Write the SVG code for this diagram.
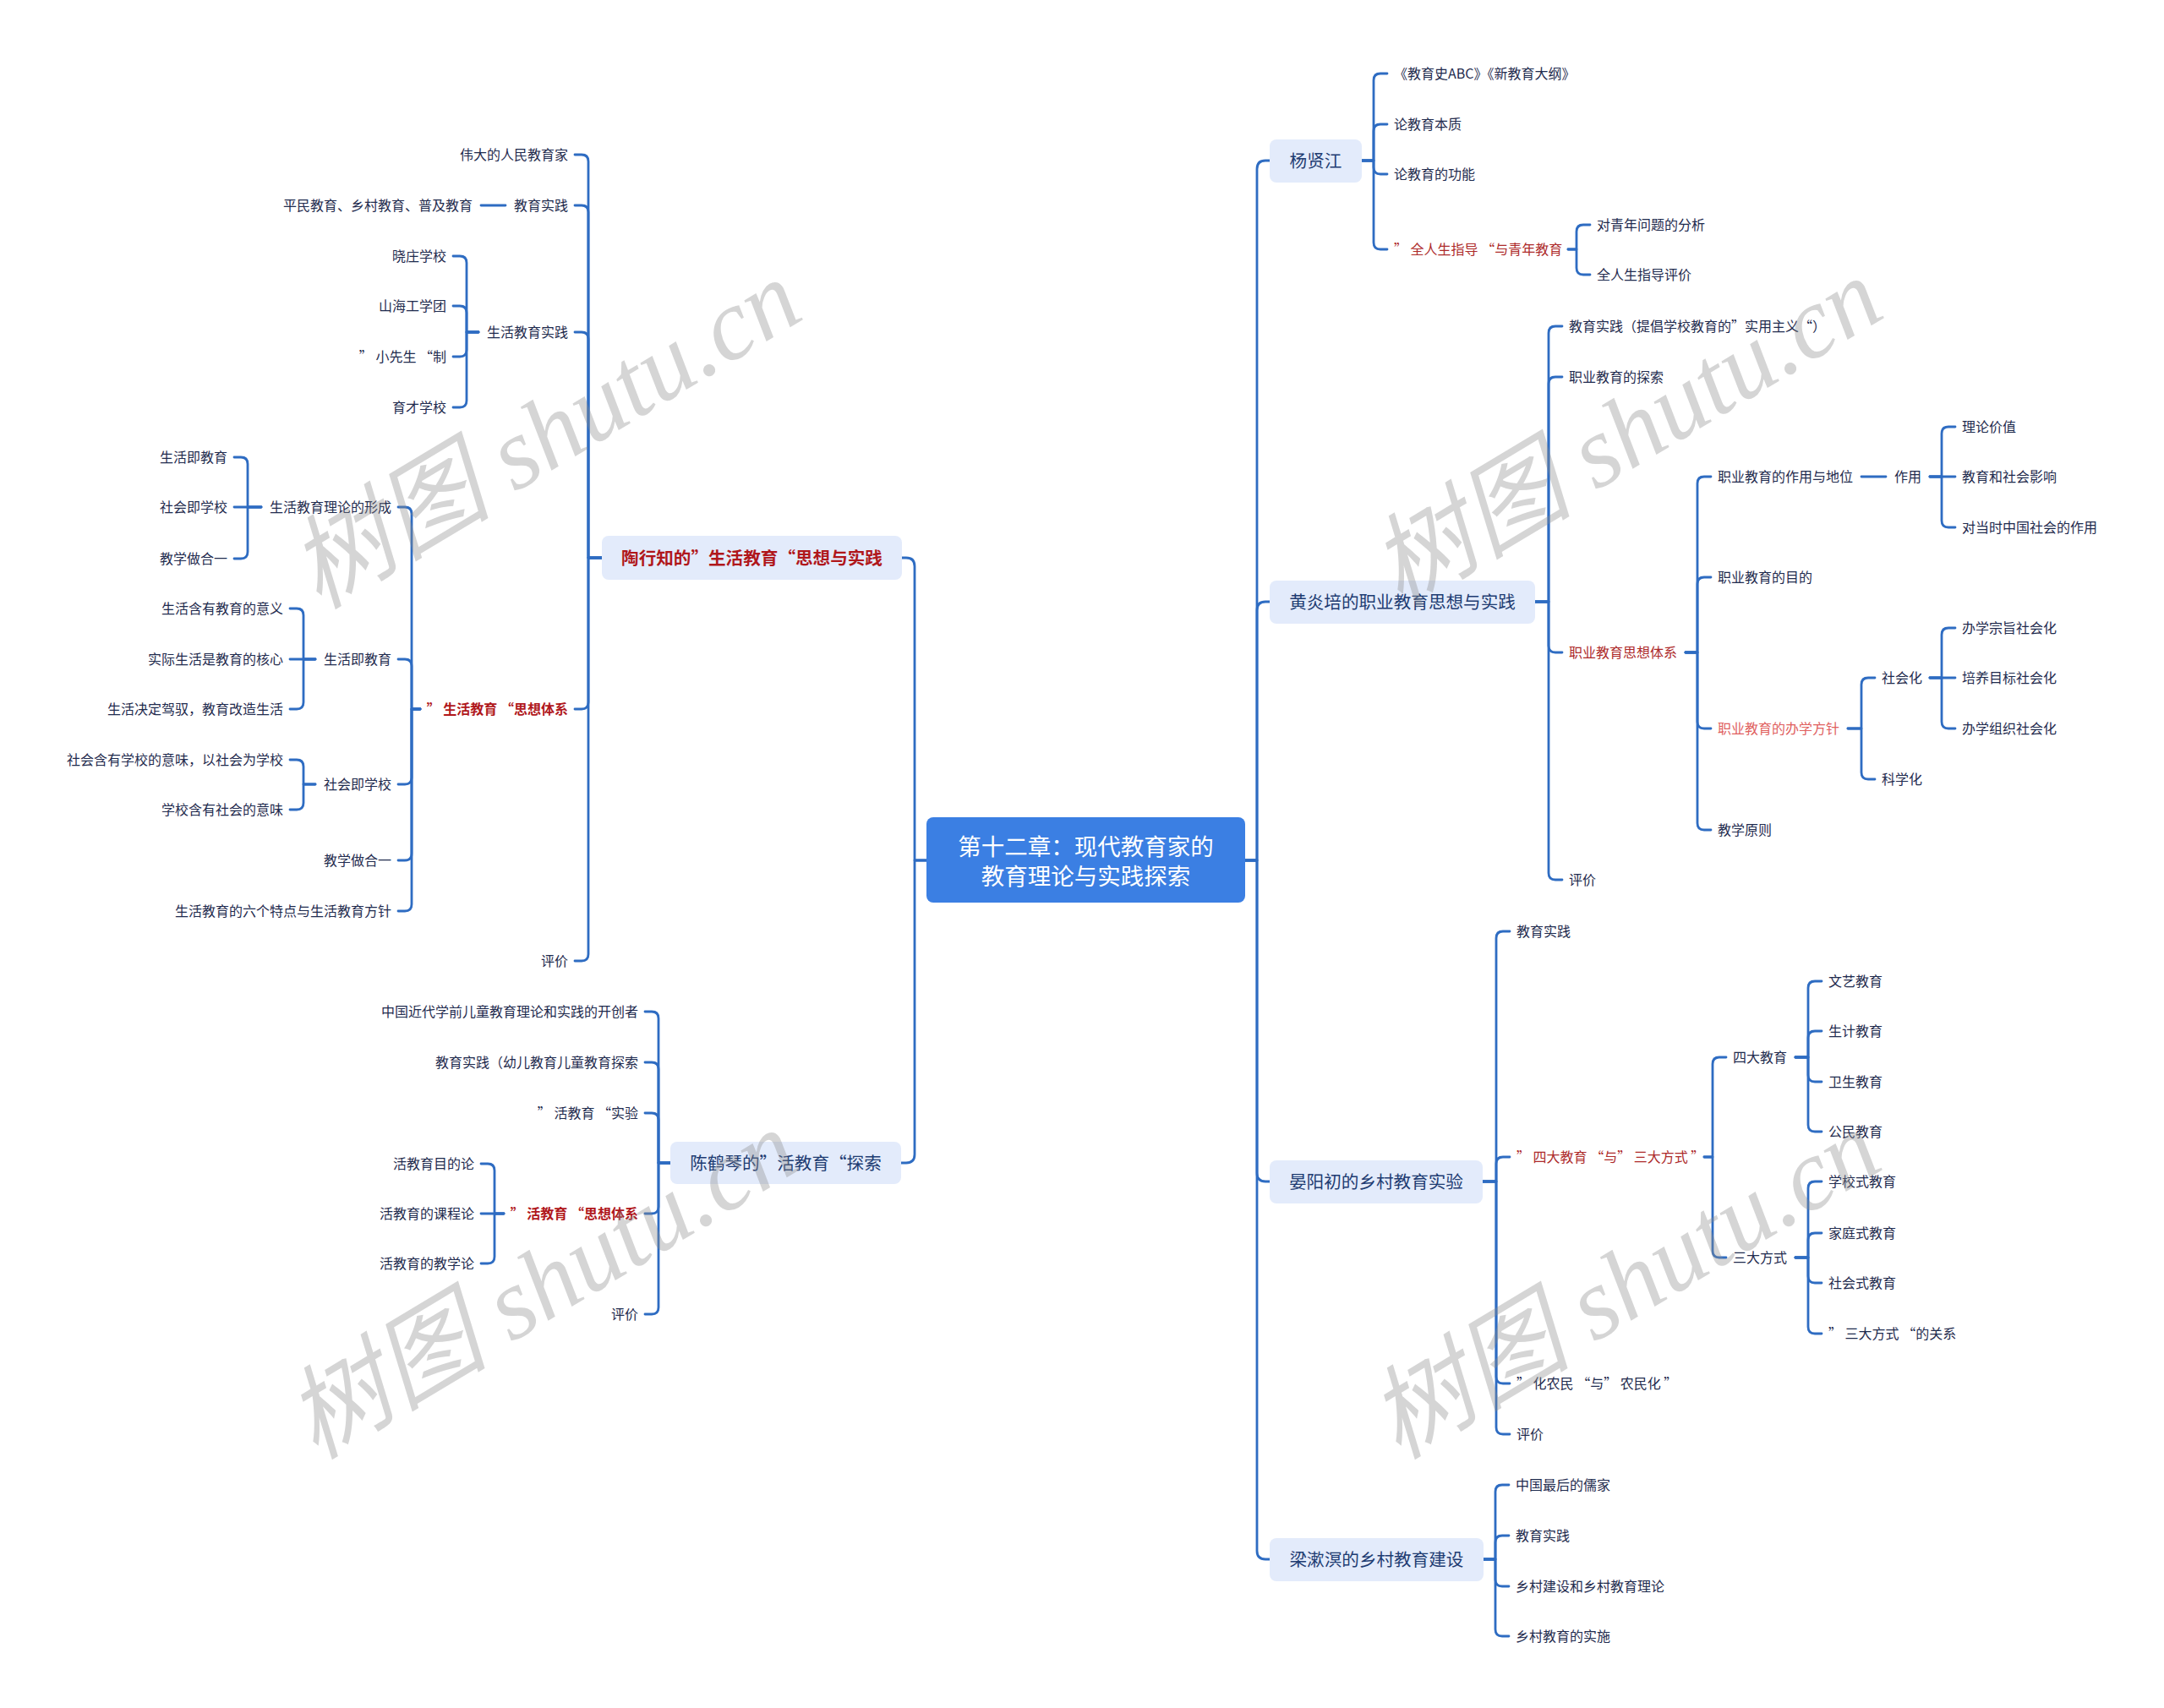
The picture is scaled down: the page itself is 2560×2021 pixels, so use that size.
<svg xmlns="http://www.w3.org/2000/svg" width="2560" height="2021" viewBox="0 0 2560 2021">
<style>
.t{font-family:"Noto Sans CJK SC","Noto Sans",sans-serif;font-size:16px;fill:#1f2b4e;dominant-baseline:central;transform:translateY(-1.5px)}
.e{text-anchor:end}
.r{fill:#ad2a2a}
.rb{fill:#b0171b;font-weight:bold}
.pk{fill:#e0605e}
.l1{font-size:20.6px;fill:#1e3c72;text-anchor:middle}
.rt{font-size:27.5px;fill:#ffffff;text-anchor:middle}
.box{fill:#e3ebfb}
#connectors path{fill:none;stroke:#2e6cc2;stroke-width:2.8;stroke-linecap:round;stroke-linejoin:round}
.wm{font-family:"Liberation Serif","Noto Sans CJK SC",serif;font-style:italic;font-size:120px;fill:#8a8a8a;fill-opacity:0.36;text-anchor:middle;dominant-baseline:central}
</style>
<rect width="2560" height="2021" fill="#ffffff"/>
<g id="connectors">
<path d="M1473,1018 H1487 V200 Q1487,190 1497,190 H1502"/>
<path d="M1473,1018 H1487 V722 Q1487,712 1497,712 H1502"/>
<path d="M1473,1018 H1487 V1388 Q1487,1398 1497,1398 H1502"/>
<path d="M1473,1018 H1487 V1835 Q1487,1845 1497,1845 H1502"/>
<path d="M1096,1018 H1082 V670 Q1082,660 1072,660 H1067"/>
<path d="M1096,1018 H1082 V1366 Q1082,1376 1072,1376 H1066"/>
<path d="M1611,190 H1625 V95 Q1625,87 1633,87 H1641"/>
<path d="M1611,190 H1625 V155 Q1625,147 1633,147 H1641"/>
<path d="M1611,190 H1625 V198 Q1625,206 1633,206 H1641"/>
<path d="M1611,190 H1625 V287 Q1625,295 1633,295 H1641"/>
<path d="M1855,295 H1865 V274 Q1865,266 1873,266 H1881"/>
<path d="M1855,295 H1865 V317 Q1865,325 1873,325 H1881"/>
<path d="M1816,712 H1832 V394 Q1832,386 1840,386 H1848"/>
<path d="M1816,712 H1832 V454 Q1832,446 1840,446 H1848"/>
<path d="M1816,712 H1832 V764 Q1832,772 1840,772 H1848"/>
<path d="M1816,712 H1832 V1033 Q1832,1041 1840,1041 H1848"/>
<path d="M1994,772 H2008 V572 Q2008,564 2016,564 H2024"/>
<path d="M1994,772 H2008 V691 Q2008,683 2016,683 H2024"/>
<path d="M1994,772 H2008 V854 Q2008,862 2016,862 H2024"/>
<path d="M1994,772 H2008 V974 Q2008,982 2016,982 H2024"/>
<path d="M2202,564 H2231"/>
<path d="M2283,564 H2297 V513 Q2297,505 2305,505 H2313"/>
<path d="M2283,564 H2313"/>
<path d="M2283,564 H2297 V616 Q2297,624 2305,624 H2313"/>
<path d="M2186,862 H2202 V810 Q2202,802 2210,802 H2218"/>
<path d="M2186,862 H2202 V914 Q2202,922 2210,922 H2218"/>
<path d="M2283,802 H2297 V751 Q2297,743 2305,743 H2313"/>
<path d="M2283,802 H2313"/>
<path d="M2283,802 H2297 V854 Q2297,862 2305,862 H2313"/>
<path d="M1754,1398 H1770 V1110 Q1770,1102 1778,1102 H1786"/>
<path d="M1754,1398 H1770 V1377 Q1770,1369 1778,1369 H1786"/>
<path d="M1754,1398 H1770 V1629 Q1770,1637 1778,1637 H1786"/>
<path d="M1754,1398 H1770 V1689 Q1770,1697 1778,1697 H1786"/>
<path d="M2016,1369 H2026 V1259 Q2026,1251 2034,1251 H2042"/>
<path d="M2016,1369 H2026 V1480 Q2026,1488 2034,1488 H2042"/>
<path d="M2124,1251 H2139 V1169 Q2139,1161 2147,1161 H2155"/>
<path d="M2124,1251 H2139 V1228 Q2139,1220 2147,1220 H2155"/>
<path d="M2124,1251 H2139 V1272 Q2139,1280 2147,1280 H2155"/>
<path d="M2124,1251 H2139 V1331 Q2139,1339 2147,1339 H2155"/>
<path d="M2124,1488 H2139 V1406 Q2139,1398 2147,1398 H2155"/>
<path d="M2124,1488 H2139 V1467 Q2139,1459 2147,1459 H2155"/>
<path d="M2124,1488 H2139 V1510 Q2139,1518 2147,1518 H2155"/>
<path d="M2124,1488 H2139 V1570 Q2139,1578 2147,1578 H2155"/>
<path d="M1755,1845 H1769 V1765 Q1769,1757 1777,1757 H1785"/>
<path d="M1755,1845 H1769 V1825 Q1769,1817 1777,1817 H1785"/>
<path d="M1755,1845 H1769 V1869 Q1769,1877 1777,1877 H1785"/>
<path d="M1755,1845 H1769 V1928 Q1769,1936 1777,1936 H1785"/>
<path d="M712,660 H696 V191 Q696,183 688,183 H680"/>
<path d="M712,660 H696 V251 Q696,243 688,243 H680"/>
<path d="M712,660 H696 V401 Q696,393 688,393 H680"/>
<path d="M712,660 H696 V831 Q696,839 688,839 H680"/>
<path d="M712,660 H696 V1129 Q696,1137 688,1137 H680"/>
<path d="M598,243 H569"/>
<path d="M566,393 H552 V311 Q552,303 544,303 H536"/>
<path d="M566,393 H552 V370 Q552,362 544,362 H536"/>
<path d="M566,393 H552 V414 Q552,422 544,422 H536"/>
<path d="M566,393 H552 V474 Q552,482 544,482 H536"/>
<path d="M497,839 H487 V608 Q487,600 479,600 H471"/>
<path d="M497,839 H487 V788 Q487,780 479,780 H471"/>
<path d="M497,839 H487 V920 Q487,928 479,928 H471"/>
<path d="M497,839 H487 V1010 Q487,1018 479,1018 H471"/>
<path d="M497,839 H487 V1070 Q487,1078 479,1078 H471"/>
<path d="M309,600 H293 V549 Q293,541 285,541 H277"/>
<path d="M309,600 H277"/>
<path d="M309,600 H293 V653 Q293,661 285,661 H277"/>
<path d="M373,780 H359 V728 Q359,720 351,720 H343"/>
<path d="M373,780 H343"/>
<path d="M373,780 H359 V831 Q359,839 351,839 H343"/>
<path d="M373,928 H359 V907 Q359,899 351,899 H343"/>
<path d="M373,928 H359 V950 Q359,958 351,958 H343"/>
<path d="M793,1376 H779 V1205 Q779,1197 771,1197 H763"/>
<path d="M793,1376 H779 V1265 Q779,1257 771,1257 H763"/>
<path d="M793,1376 H779 V1325 Q779,1317 771,1317 H763"/>
<path d="M793,1376 H779 V1428 Q779,1436 771,1436 H763"/>
<path d="M793,1376 H779 V1547 Q779,1555 771,1555 H763"/>
<path d="M596,1436 H585 V1385 Q585,1377 577,1377 H569"/>
<path d="M596,1436 H569"/>
<path d="M596,1436 H585 V1487 Q585,1495 577,1495 H569"/>
</g>
<g id="root">
<rect x="1096" y="967" width="377" height="101" rx="8" fill="#3b7fe3"/>
<text class="t rt" x="1284.5" y="1001">第十二章：现代教育家的</text>
<text class="t rt" x="1284.5" y="1036">教育理论与实践探索</text>
</g>
<g id="n-yang">
<rect class="box" x="1502" y="165" width="109" height="51" rx="8"/>
<text class="t l1" x="1556.5" y="190">杨贤江</text>
</g>
<g id="n-yang-c">
<text class="t" x="1649" y="87">《教育史ABC》《新教育大纲》</text>
<text class="t" x="1649" y="147">论教育本质</text>
<text class="t" x="1649" y="206">论教育的功能</text>
<text class="t r" x="1649" y="295">” 全人生指导 “与青年教育</text>
<text class="t" x="1889" y="266">对青年问题的分析</text>
<text class="t" x="1889" y="325">全人生指导评价</text>
</g>
<g id="n-huang">
<rect class="box" x="1502" y="687" width="314" height="51" rx="8"/>
<text class="t l1" x="1659" y="712">黄炎培的职业教育思想与实践</text>
</g>
<g id="n-huang-c">
<text class="t" x="1856" y="386">教育实践（提倡学校教育的”实用主义“）</text>
<text class="t" x="1856" y="446">职业教育的探索</text>
<text class="t r" x="1856" y="772">职业教育思想体系</text>
<text class="t" x="1856" y="1041">评价</text>
<text class="t" x="2032" y="564">职业教育的作用与地位</text>
<text class="t" x="2241" y="564">作用</text>
<text class="t" x="2321" y="505">理论价值</text>
<text class="t" x="2321" y="564">教育和社会影响</text>
<text class="t" x="2321" y="624">对当时中国社会的作用</text>
<text class="t" x="2032" y="683">职业教育的目的</text>
<text class="t pk" x="2032" y="862">职业教育的办学方针</text>
<text class="t" x="2226" y="802">社会化</text>
<text class="t" x="2226" y="922">科学化</text>
<text class="t" x="2321" y="743">办学宗旨社会化</text>
<text class="t" x="2321" y="802">培养目标社会化</text>
<text class="t" x="2321" y="862">办学组织社会化</text>
<text class="t" x="2032" y="982">教学原则</text>
</g>
<g id="n-yan">
<rect class="box" x="1502" y="1373" width="252" height="51" rx="8"/>
<text class="t l1" x="1628" y="1398">晏阳初的乡村教育实验</text>
</g>
<g id="n-yan-c">
<text class="t" x="1794" y="1102">教育实践</text>
<text class="t r" x="1794" y="1369">” 四大教育 “与” 三大方式 ”</text>
<text class="t" x="2050" y="1251">四大教育</text>
<text class="t" x="2163" y="1161">文艺教育</text>
<text class="t" x="2163" y="1220">生计教育</text>
<text class="t" x="2163" y="1280">卫生教育</text>
<text class="t" x="2163" y="1339">公民教育</text>
<text class="t" x="2050" y="1488">三大方式</text>
<text class="t" x="2163" y="1398">学校式教育</text>
<text class="t" x="2163" y="1459">家庭式教育</text>
<text class="t" x="2163" y="1518">社会式教育</text>
<text class="t" x="2163" y="1578">” 三大方式 “的关系</text>
<text class="t" x="1794" y="1637">” 化农民 “与” 农民化 ”</text>
<text class="t" x="1794" y="1697">评价</text>
</g>
<g id="n-liang">
<rect class="box" x="1502" y="1820" width="253" height="51" rx="8"/>
<text class="t l1" x="1628.5" y="1845">梁漱溟的乡村教育建设</text>
</g>
<g id="n-liang-c">
<text class="t" x="1793" y="1757">中国最后的儒家</text>
<text class="t" x="1793" y="1817">教育实践</text>
<text class="t" x="1793" y="1877">乡村建设和乡村教育理论</text>
<text class="t" x="1793" y="1936">乡村教育的实施</text>
</g>
<g id="n-tao">
<rect class="box" x="712" y="634" width="355" height="52" rx="8"/>
<text class="t l1" x="889.5" y="660" style="fill:#b0171b;font-weight:bold">陶行知的”生活教育“思想与实践</text>
</g>
<g id="n-tao-c">
<text class="t e" x="672" y="183">伟大的人民教育家</text>
<text class="t e" x="672" y="243">教育实践</text>
<text class="t e" x="559" y="243">平民教育、乡村教育、普及教育</text>
<text class="t e" x="672" y="393">生活教育实践</text>
<text class="t e" x="528" y="303">晓庄学校</text>
<text class="t e" x="528" y="362">山海工学团</text>
<text class="t e" x="528" y="422">” 小先生 “制</text>
<text class="t e" x="528" y="482">育才学校</text>
<text class="t e rb" x="672" y="839">” 生活教育 “思想体系</text>
<text class="t e" x="463" y="600">生活教育理论的形成</text>
<text class="t e" x="269" y="541">生活即教育</text>
<text class="t e" x="269" y="600">社会即学校</text>
<text class="t e" x="269" y="661">教学做合一</text>
<text class="t e" x="463" y="780">生活即教育</text>
<text class="t e" x="335" y="720">生活含有教育的意义</text>
<text class="t e" x="335" y="780">实际生活是教育的核心</text>
<text class="t e" x="335" y="839">生活决定驾驭，教育改造生活</text>
<text class="t e" x="463" y="928">社会即学校</text>
<text class="t e" x="335" y="899">社会含有学校的意味，以社会为学校</text>
<text class="t e" x="335" y="958">学校含有社会的意味</text>
<text class="t e" x="463" y="1018">教学做合一</text>
<text class="t e" x="463" y="1078">生活教育的六个特点与生活教育方针</text>
<text class="t e" x="672" y="1137">评价</text>
</g>
<g id="n-chen">
<rect class="box" x="793" y="1351" width="273" height="50" rx="8"/>
<text class="t l1" x="929.5" y="1376">陈鹤琴的”活教育“探索</text>
</g>
<g id="n-chen-c">
<text class="t e" x="755" y="1197">中国近代学前儿童教育理论和实践的开创者</text>
<text class="t e" x="755" y="1257">教育实践（幼儿教育儿童教育探索</text>
<text class="t e" x="755" y="1317">” 活教育 “实验</text>
<text class="t e rb" x="755" y="1436">” 活教育 “思想体系</text>
<text class="t e" x="561" y="1377">活教育目的论</text>
<text class="t e" x="561" y="1436">活教育的课程论</text>
<text class="t e" x="561" y="1495">活教育的教学论</text>
<text class="t e" x="755" y="1555">评价</text>
</g>
<g id="watermarks">
<text class="wm" transform="translate(645,514) rotate(-31)">树图 shutu.cn</text>
<text class="wm" transform="translate(641,1520) rotate(-31)">树图 shutu.cn</text>
<text class="wm" transform="translate(1924,512) rotate(-31)">树图 shutu.cn</text>
<text class="wm" transform="translate(1922,1520) rotate(-31)">树图 shutu.cn</text>
</g>
</svg>
